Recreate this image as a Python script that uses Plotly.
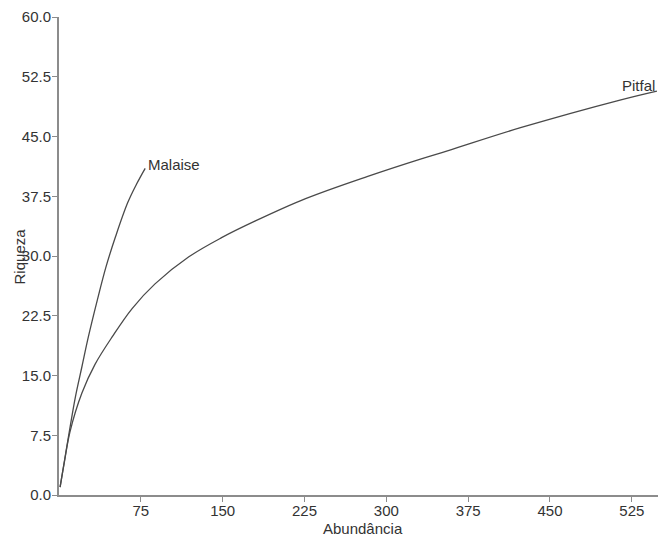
import plotly.graph_objects as go

# Rarefaction curves
malaise_x = [1, 5, 10, 15, 21, 27, 35, 43, 52, 63, 71, 79]
malaise_y = [1, 4.3, 8.4, 12.3, 16.1, 19.9, 24.4, 28.6, 32.5, 36.7, 39.0, 41.0]

pitfal_x = [1, 5, 10, 21, 33, 49, 67, 88, 119, 149, 180, 226, 283, 332, 356,
            423, 515, 548]
pitfal_y = [1, 4.2, 7.9, 12.8, 16.4, 19.9, 23.4, 26.5, 29.9, 32.3, 34.4, 37.2,
            40.0, 42.2, 43.2, 46.1, 49.6, 50.7]

series_names = ["Malaise", "Pitfal"]
x_ticks = [75, 150, 225, 300, 375, 450, 525]
y_ticks = [0, 7.5, 15, 22.5, 30, 37.5, 45, 52.5, 60]
y_tick_labels = ["0.0", "7.5", "15.0", "22.5", "30.0", "37.5", "45.0", "52.5", "60.0"]

FONT = "Liberation Sans, Arial, sans-serif"
TXT = "#333333"
LINE = "#4a4a4a"
AXIS = "#8c8c8c"
FS = 15

fig = go.Figure()
fig.add_trace(go.Scatter(x=malaise_x, y=malaise_y, mode="lines", name=series_names[0],
                         line=dict(color=LINE, width=1.3, shape="spline", smoothing=1)))
fig.add_trace(go.Scatter(x=pitfal_x, y=pitfal_y, mode="lines", name=series_names[1],
                         line=dict(color=LINE, width=1.3, shape="spline", smoothing=1)))

fig.add_annotation(x=malaise_x[-1], y=malaise_y[-1], text=series_names[0], showarrow=False,
                   xanchor="left", yanchor="bottom", xshift=1, yshift=-7,
                   font=dict(family=FONT, size=FS, color=TXT))
fig.add_annotation(x=pitfal_x[-1], y=pitfal_y[-1], text=series_names[1], showarrow=False,
                   xanchor="right", yanchor="bottom", xshift=0, yshift=-5,
                   font=dict(family=FONT, size=FS, color=TXT))

fig.add_annotation(x=-0.066, y=0.5, xref="paper", yref="paper", text="Riqueza",
                   textangle=-90, showarrow=False, xanchor="center", yanchor="middle",
                   font=dict(family=FONT, size=FS, color=TXT))
fig.add_annotation(x=0.508, y=-0.071, xref="paper", yref="paper", text="Abundância",
                   showarrow=False, xanchor="center", yanchor="middle",
                   font=dict(family=FONT, size=FS, color=TXT))

fig.update_layout(
    width=658, height=539,
    margin=dict(l=58.5, r=0, t=17, b=44, autoexpand=False),
    paper_bgcolor="white", plot_bgcolor="white",
    showlegend=False,
    font=dict(family=FONT, size=FS, color=TXT),
    xaxis=dict(range=[0, 549], tickvals=x_ticks, showgrid=False, zeroline=False,
               showline=True, linecolor=AXIS, linewidth=2, ticks="outside",
               ticklen=5, tickcolor=AXIS, ticklabelstandoff=-4,
               tickfont=dict(family=FONT, size=FS, color=TXT)),
    yaxis=dict(range=[0, 60], tickvals=y_ticks, ticktext=y_tick_labels, showgrid=False,
               zeroline=False, showline=True, linecolor=AXIS, linewidth=2,
               ticks="outside", ticklen=5, tickcolor=AXIS, ticklabelstandoff=-2,
               tickfont=dict(family=FONT, size=FS, color=TXT)),
)

# remove the page's default body margin so the figure fills the window exactly
fig.write_html(
    "out.html",
    config={"displayModeBar": False},
    post_script="document.body.style.margin='0';document.body.style.overflow='hidden';",
)
